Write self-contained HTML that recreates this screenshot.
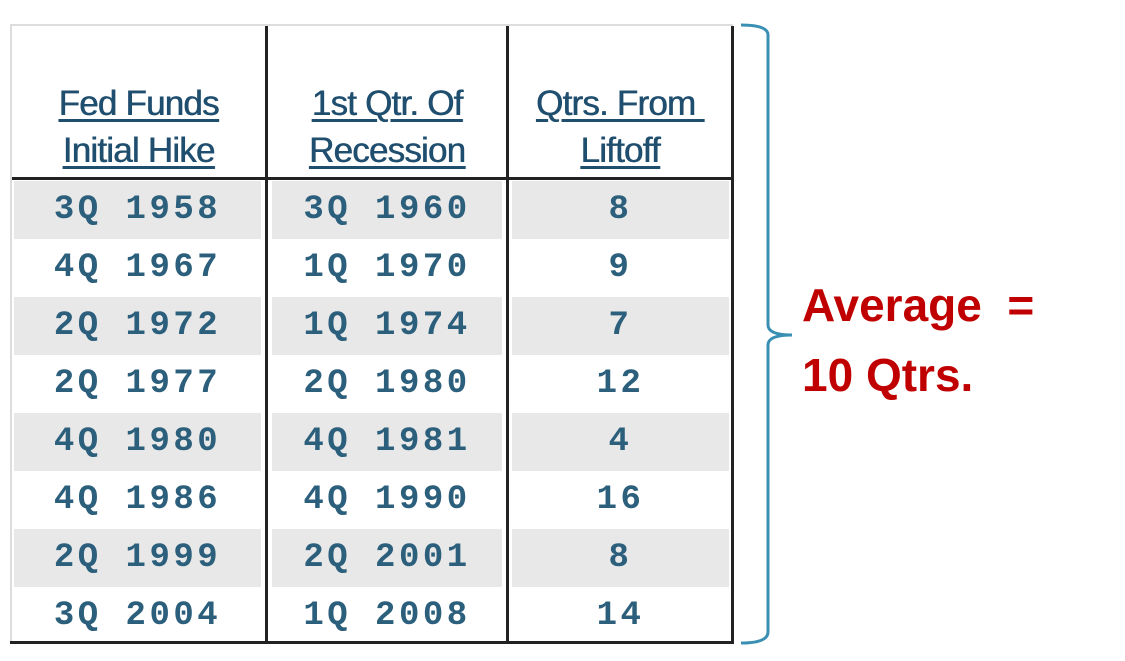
<!DOCTYPE html>
<html><head><style>
body{margin:0;width:1125px;height:661px;background:#fff;position:relative;overflow:hidden}
.a{position:absolute}
.h{font-family:"Liberation Sans",sans-serif;font-size:35px;color:#1f4e6e;text-decoration:underline;text-decoration-thickness:3px;text-underline-offset:4px;text-align:center;line-height:47px;letter-spacing:-0.8px;text-shadow:0.6px 0 0 #1f4e6e}
.d{font-family:"Liberation Mono",monospace;font-weight:bold;font-size:34px;color:#2b5f7c;text-align:center;line-height:58px;height:58px;letter-spacing:3.5px;white-space:pre}
.g{background:#e8e8e8}
</style></head><body>
<div class="a" style="left:0;top:181px">
<div class="a" style="left:14px;top:0;width:247px">
<div class="d g">3Q 1958</div><div class="d">4Q 1967</div><div class="d g">2Q 1972</div><div class="d">2Q 1977</div><div class="d g">4Q 1980</div><div class="d">4Q 1986</div><div class="d g">2Q 1999</div><div class="d">3Q 2004</div></div>
<div class="a" style="left:272px;top:0;width:230px">
<div class="d g">3Q 1960</div><div class="d">1Q 1970</div><div class="d g">1Q 1974</div><div class="d">2Q 1980</div><div class="d g">4Q 1981</div><div class="d">4Q 1990</div><div class="d g">2Q 2001</div><div class="d">1Q 2008</div></div>
<div class="a" style="left:512px;top:0;width:217px">
<div class="d g">8</div><div class="d">9</div><div class="d g">7</div><div class="d">12</div><div class="d g">4</div><div class="d">16</div><div class="d g">8</div><div class="d">14</div></div>
</div>
<div class="a" style="left:10px;top:24px;width:723px;height:2px;background:#ddd"></div>
<div class="a" style="left:10px;top:24px;width:2px;height:620px;background:#ddd"></div>
<div class="a" style="left:731px;top:26px;width:3px;height:617px;background:#222"></div>
<div class="a" style="left:265px;top:26px;width:3px;height:617px;background:#222"></div>
<div class="a" style="left:506px;top:26px;width:3px;height:617px;background:#222"></div>
<div class="a" style="left:12px;top:177px;width:722px;height:3px;background:#222"></div>
<div class="a" style="left:10px;top:641px;width:724px;height:3px;background:#222"></div>
<div class="a h" style="left:12px;top:80px;width:253px">Fed Funds<br>Initial Hike</div>
<div class="a h" style="left:268px;top:80px;width:238px">1st Qtr. Of<br>Recession</div>
<div class="a h" style="left:509px;top:80px;width:222px">Qtrs. From&nbsp;<br>Liftoff</div>
<svg class="a" style="left:0;top:0" width="1125" height="661">
<path d="M741 25 Q768 25 768 35 L768 325 Q768 335 792 335 Q768 335 768 345 L768 632 Q768 643 741 643" fill="none" stroke="#3a90b2" stroke-width="3"/>
</svg>
<div class="a" style="left:802px;top:270px;font-family:'Liberation Sans',sans-serif;font-weight:bold;font-size:46px;line-height:70px;color:#c00000;white-space:pre">Average  =
10 Qtrs.</div>
</body></html>
